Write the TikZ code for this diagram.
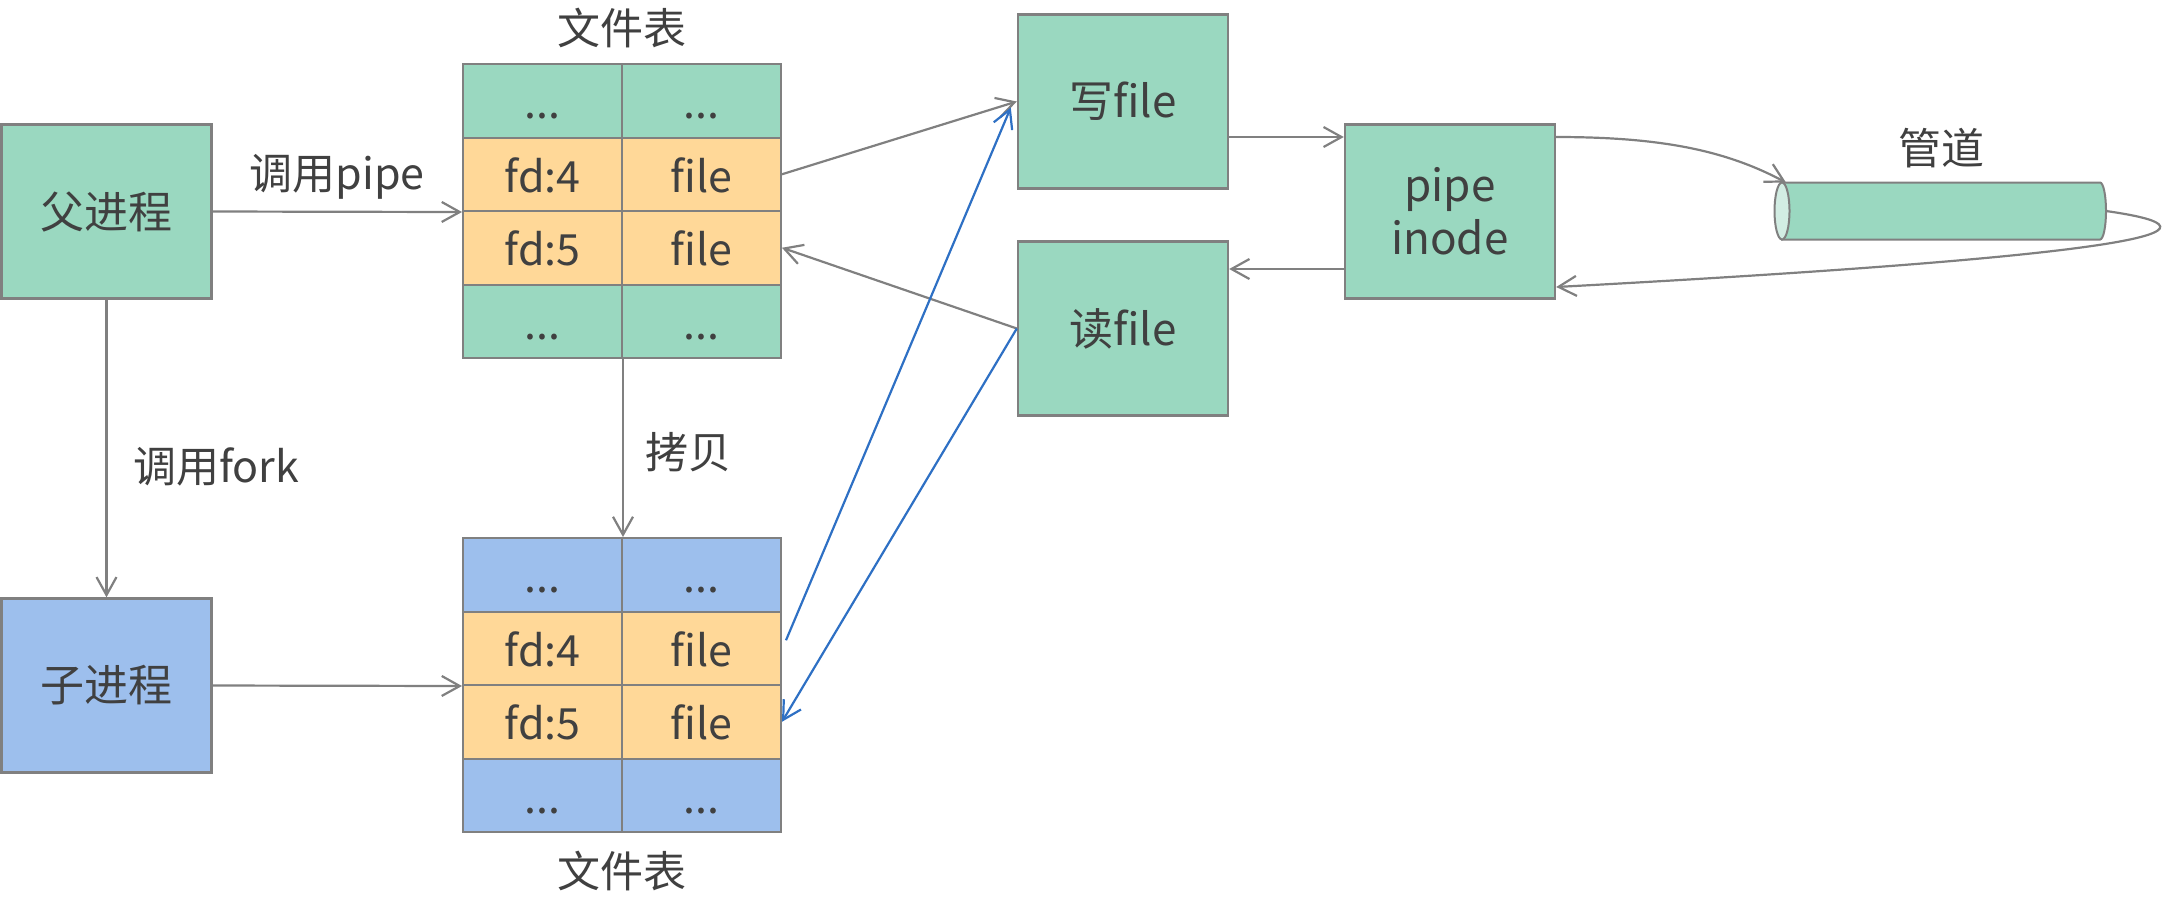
\documentclass[tikz,border=0pt]{standalone}
\usepackage{fontspec}
\setmainfont{Noto Sans CJK SC}
\usepackage{tikz}
\usetikzlibrary{arrows.meta}
\definecolor{procgreen}{RGB}{154,216,192}
\definecolor{procblue}{RGB}{157,191,237}
\definecolor{fdorange}{RGB}{255,216,152}
\definecolor{edgegray}{RGB}{128,128,128}
\definecolor{textgray}{RGB}{64,64,64}
\definecolor{linkblue}{RGB}{46,112,196}
\tikzset{
    procbox/.style={draw=edgegray, line width=1.2pt, minimum width=105pt, minimum height=87pt, inner sep=0pt, text=textgray, font=\fontsize{22}{26.5}\selectfont, align=center},
    cell/.style={draw=edgegray, line width=1pt, minimum width=79.5pt, minimum height=36.75pt, inner sep=0pt, text height=18pt, text depth=0pt, text=textgray, font=\fontsize{21.5}{26.5}\selectfont},
    garrow/.style={draw=edgegray, line width=1.1pt, -{Straight Barb[length=9pt,width=10pt]}},
    barrow/.style={draw=linkblue, line width=1.1pt, -{Straight Barb[length=9pt,width=10pt]}},
    lbl/.style={text=textgray, font=\fontsize{21.5}{26.5}\selectfont}
}

\begin{document}
\begin{tikzpicture}[x=0.5pt, y=-0.5pt]
    \useasboundingbox (0,0) rectangle (2169,896);

    % === PROCESSUS ===
    \node[procbox, fill=procgreen] (parent) at (106.5,211.5) {父进程};
    \node[procbox, fill=procblue] (child) at (106.5,685.5) {子进程};

    % Table du pere
    \node[lbl] (ttitle) at (622,28) {文件表};
    \node[cell, fill=procgreen] (tdotsl) at (542.5,100.75) {...};
    \node[cell, fill=procgreen] (tdotsr) at (701.5,100.75) {...};
    \node[cell, fill=fdorange] (tfd4) at (542.5,174.25) {fd:4};
    \node[cell, fill=fdorange] (tfile4) at (701.5,174.25) {file};
    \node[cell, fill=fdorange] (tfd5) at (542.5,247.75) {fd:5};
    \node[cell, fill=fdorange] (tfile5) at (701.5,247.75) {file};
    \node[cell, fill=procgreen] (tdotsbl) at (542.5,321.25) {...};
    \node[cell, fill=procgreen] (tdotsbr) at (701.5,321.25) {...};

    % Table du fils
    \node[cell, fill=procblue] (cdotsl) at (542.5,574.75) {...};
    \node[cell, fill=procblue] (cdotsr) at (701.5,574.75) {...};
    \node[cell, fill=fdorange] (cfd4) at (542.5,648.25) {fd:4};
    \node[cell, fill=fdorange] (cfile4) at (701.5,648.25) {file};
    \node[cell, fill=fdorange] (cfd5) at (542.5,721.75) {fd:5};
    \node[cell, fill=fdorange] (cfile5) at (701.5,721.75) {file};
    \node[cell, fill=procblue] (cdotsbl) at (542.5,795.25) {...};
    \node[cell, fill=procblue] (cdotsbr) at (701.5,795.25) {...};
    \node[lbl] (ctitle) at (622,871) {文件表};

    % === FICHIERS ET INODE ===
    \node[procbox, fill=procgreen] (wfile) at (1123,101.5) {写file};
    \node[procbox, fill=procgreen] (rfile) at (1123,328.5) {读file};
    \node[procbox, fill=procgreen] (inode) at (1450,211.5) {pipe\\inode};

    % Tube
    \node[minimum width=159pt, minimum height=28.5pt, inner sep=0pt, outer sep=0pt] (cyl) at (1941,211) {};
    \draw[edgegray, line width=1pt, fill=procgreen] (cyl.north west) -- (cyl.north east)
        arc[start angle=90, end angle=-90, x radius=3pt, y radius=14.25pt] -- (cyl.south west) -- cycle;
    \draw[edgegray, line width=1pt, fill=procgreen!45!white] (cyl.west) ellipse[x radius=3.75pt, y radius=14.25pt];
    \node[lbl] (lguan) at (1941,148) {管道};

    \coordinate (w2i) at (0,137);
    \coordinate (i2r) at (0,269);

    % Fleches grises
    \draw[garrow] (parent.east) -- (tfd4.south west);
    \node[lbl] (lpipe) at (337,177) {调用pipe};
    \draw[garrow] (parent.south) -- (child.north);
    \node[lbl] (lfork) at (216,467) {调用fork};
    \draw[garrow] (child.east) -- (cfd4.south west);
    \draw[garrow] (tdotsbl.south east) -- (cdotsl.north east);
    \node[lbl] (lcopy) at (688,452) {拷贝};
    \draw[garrow] (tfile4.east) -- (wfile.west);
    \draw[garrow] (rfile.west) -- (tfile5.east);
    \draw[garrow] (wfile.east |- w2i) -- (inode.west |- w2i);
    \draw[garrow] (inode.west |- i2r) -- (rfile.east |- i2r);
    \draw[garrow] (inode.east |- w2i) .. controls (1660,137) and (1725,150) .. ([xshift=2pt]cyl.north west);
    \draw[garrow] ([xshift=3pt]cyl.east) .. controls (2240,230) and (2150,255) .. ([yshift=-37.75pt]inode.east);

    % Fleches bleues
    \draw[barrow] ([xshift=2pt,yshift=4pt]cfile4.east) -- ([xshift=-3pt,yshift=-3pt]wfile.west);
    \draw[barrow] (rfile.west) -- (cfile5.east);

\end{tikzpicture}
\end{document}
